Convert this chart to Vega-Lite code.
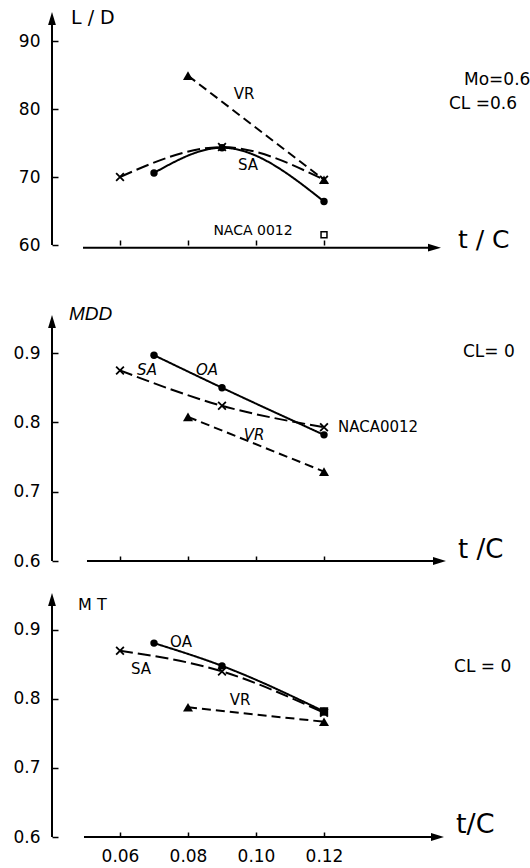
{
  "$schema": "https://vega.github.io/schema/vega-lite/v6.json",
  "background": "white",
  "padding": {"left": 12, "top": 10, "right": 0, "bottom": 0},
  "bounds": "flush",
  "spacing": 30,
  "config": {
    "view": {"stroke": null},
    "axis": {"labelFont": "DejaVu Sans", "labelColor": "black", "tickColor": "black"}
  },
  "datasets": {
    "curves": [
      {"panel": "LD", "series": "OA", "tc": 0.07, "v": 70.6},
      {"panel": "LD", "series": "OA", "tc": 0.09, "v": 74.3},
      {"panel": "LD", "series": "OA", "tc": 0.12, "v": 66.4},
      {"panel": "LD", "series": "SA", "tc": 0.06, "v": 70.0},
      {"panel": "LD", "series": "SA", "tc": 0.09, "v": 74.4},
      {"panel": "LD", "series": "SA", "tc": 0.12, "v": 69.6},
      {"panel": "LD", "series": "VR", "tc": 0.08, "v": 84.9},
      {"panel": "LD", "series": "VR", "tc": 0.12, "v": 69.6},
      {"panel": "MDD", "series": "OA", "tc": 0.07, "v": 0.897},
      {"panel": "MDD", "series": "OA", "tc": 0.09, "v": 0.850},
      {"panel": "MDD", "series": "OA", "tc": 0.12, "v": 0.782},
      {"panel": "MDD", "series": "SA", "tc": 0.06, "v": 0.875},
      {"panel": "MDD", "series": "SA", "tc": 0.09, "v": 0.824},
      {"panel": "MDD", "series": "SA", "tc": 0.12, "v": 0.793},
      {"panel": "MDD", "series": "VR", "tc": 0.08, "v": 0.808},
      {"panel": "MDD", "series": "VR", "tc": 0.12, "v": 0.729},
      {"panel": "MT", "series": "OA", "tc": 0.07, "v": 0.881},
      {"panel": "MT", "series": "OA", "tc": 0.09, "v": 0.848},
      {"panel": "MT", "series": "OA", "tc": 0.12, "v": 0.782},
      {"panel": "MT", "series": "SA", "tc": 0.06, "v": 0.870},
      {"panel": "MT", "series": "SA", "tc": 0.09, "v": 0.840},
      {"panel": "MT", "series": "SA", "tc": 0.12, "v": 0.780},
      {"panel": "MT", "series": "VR", "tc": 0.08, "v": 0.788},
      {"panel": "MT", "series": "VR", "tc": 0.12, "v": 0.767}
    ]
  },
  "vconcat": [
    {
      "width": 479,
      "height": 235,
      "encoding": {
        "x": {"field": "tc", "type": "quantitative", "scale": {"domain": [0.04, 0.18088], "nice": false, "zero": false},
          "axis": {"title": null, "domain": false, "grid": false, "values": [0.06, 0.08, 0.1, 0.12], "tickSize": -5, "tickWidth": 1.5, "labels": false}},
        "y": {"field": "v", "type": "quantitative", "scale": {"domain": [60, 94.559], "nice": false, "zero": false},
          "axis": {"title": null, "domain": false, "grid": false, "values": [60, 70, 80, 90], "tickSize": -6, "tickWidth": 1.5, "labelFontSize": 17, "labelPadding": 18, "labelFlush": false}}
      },
      "layer": [
        {"data": {"values": [{"tc": 0.04, "v": 60, "tc2": 0.04, "v2": 93.31}, {"tc": 0.04912, "v": 59.6, "tc2": 0.1525, "v2": 59.6}]},
          "mark": {"type": "rule", "color": "black", "strokeWidth": 2},
          "encoding": {"x2": {"field": "tc2"}, "y2": {"field": "v2"}}},
        {"data": {"values": [{"tc": 0.04, "v": 93.31}]},
          "mark": {"type": "point", "shape": "M0,-1L0.6,1L-0.6,1Z", "filled": true, "color": "black", "opacity": 1, "size": 169}},
        {"data": {"values": [{"tc": 0.1525, "v": 59.6}]},
          "mark": {"type": "point", "shape": "M1,0L-1,0.6L-1,-0.6Z", "filled": true, "color": "black", "opacity": 1, "size": 169}},
        {"data": {"name": "curves"}, "transform": [{"filter": "datum.panel === 'LD'"}],
          "mark": {"type": "line", "interpolate": "monotone", "color": "black", "strokeWidth": 2},
          "encoding": {"strokeDash": {"field": "series", "type": "nominal", "scale": {"domain": ["OA", "SA", "VR"], "range": [[1, 0], [13, 5], [9, 5]]}, "legend": null}}},
        {"data": {"name": "curves"}, "transform": [{"filter": "datum.panel === 'LD' && datum.series === 'OA'"}],
          "mark": {"type": "point", "shape": "circle", "filled": true, "color": "black", "opacity": 1, "size": 55}},
        {"data": {"name": "curves"}, "transform": [{"filter": "datum.panel === 'LD' && datum.series === 'VR'"}],
          "mark": {"type": "point", "shape": "triangle-up", "filled": true, "color": "black", "opacity": 1, "size": 100}},
        {"data": {"name": "curves"}, "transform": [{"filter": "datum.panel === 'LD' && datum.series === 'SA'"}],
          "mark": {"type": "point", "shape": "M-1,-1L1,1M-1,1L1,-1", "filled": false, "color": "black", "opacity": 1, "strokeWidth": 1.8, "size": 60}},
        {"data": {"values": [{"tc": 0.12, "v": 61.5}]},
          "mark": {"type": "point", "shape": "square", "filled": false, "color": "black", "opacity": 1, "strokeWidth": 1.5, "size": 35}},
        {"data": {"values": [{"tc": 0.04559, "v": 93.38, "label": "L / D"}]},
          "mark": {"type": "text", "align": "left", "baseline": "middle", "font": "DejaVu Sans", "fontSize": 19, "color": "black", "clip": true},
          "encoding": {"text": {"field": "label"}}},
        {"data": {"values": [{"tc": 0.09647, "v": 82.21, "label": "VR"}, {"tc": 0.09765, "v": 71.76, "label": "SA"}]},
          "mark": {"type": "text", "align": "center", "baseline": "middle", "font": "DejaVu Sans", "fontSize": 15, "color": "black", "clip": true},
          "encoding": {"text": {"field": "label"}}},
        {"data": {"values": [{"tc": 0.09912, "v": 62.06, "label": "NACA 0012"}]},
          "mark": {"type": "text", "align": "center", "baseline": "middle", "font": "DejaVu Sans", "fontSize": 14, "color": "black", "clip": true},
          "encoding": {"text": {"field": "label"}}},
        {"data": {"values": [{"tc": 0.16118, "v": 84.26, "label": "Mo=0.6"}, {"tc": 0.15676, "v": 80.74, "label": "CL  =0.6"}]},
          "mark": {"type": "text", "align": "left", "baseline": "middle", "font": "DejaVu Sans", "fontSize": 17, "color": "black", "clip": true},
          "encoding": {"text": {"field": "label"}}},
        {"data": {"values": [{"tc": 0.15941, "v": 60.74, "label": "t / C"}]},
          "mark": {"type": "text", "align": "left", "baseline": "middle", "font": "DejaVu Sans", "fontSize": 25, "color": "black"},
          "encoding": {"text": {"field": "label"}}}
      ]
    },
    {
      "width": 479,
      "height": 286,
      "encoding": {
        "x": {"field": "tc", "type": "quantitative", "scale": {"domain": [0.04, 0.18088], "nice": false, "zero": false},
          "axis": {"title": null, "domain": false, "grid": false, "values": [0.06, 0.08, 0.1, 0.12], "tickSize": -5, "tickWidth": 1.5, "labels": false}},
        "y": {"field": "v", "type": "quantitative", "scale": {"domain": [0.6, 1.0127], "nice": false, "zero": false},
          "axis": {"title": null, "domain": false, "grid": false, "values": [0.6, 0.7, 0.8, 0.9], "format": ".1f", "tickSize": -6, "tickWidth": 1.5, "labelFontSize": 17, "labelPadding": 18, "labelFlush": false}}
      },
      "layer": [
        {"data": {"values": [{"tc": 0.04, "v": 0.6, "tc2": 0.04, "v2": 0.9456}, {"tc": 0.05029, "v": 0.6, "tc2": 0.15397, "v2": 0.6}]},
          "mark": {"type": "rule", "color": "black", "strokeWidth": 2},
          "encoding": {"x2": {"field": "tc2"}, "y2": {"field": "v2"}}},
        {"data": {"values": [{"tc": 0.04, "v": 0.9456}]},
          "mark": {"type": "point", "shape": "M0,-1L0.6,1L-0.6,1Z", "filled": true, "color": "black", "opacity": 1, "size": 169}},
        {"data": {"values": [{"tc": 0.15397, "v": 0.6}]},
          "mark": {"type": "point", "shape": "M1,0L-1,0.6L-1,-0.6Z", "filled": true, "color": "black", "opacity": 1, "size": 169}},
        {"data": {"name": "curves"}, "transform": [{"filter": "datum.panel === 'MDD'"}],
          "mark": {"type": "line", "interpolate": "monotone", "color": "black", "strokeWidth": 2},
          "encoding": {"strokeDash": {"field": "series", "type": "nominal", "scale": {"domain": ["OA", "SA", "VR"], "range": [[1, 0], [13, 5], [9, 5]]}, "legend": null}}},
        {"data": {"name": "curves"}, "transform": [{"filter": "datum.panel === 'MDD' && datum.series === 'OA'"}],
          "mark": {"type": "point", "shape": "circle", "filled": true, "color": "black", "opacity": 1, "size": 55}},
        {"data": {"name": "curves"}, "transform": [{"filter": "datum.panel === 'MDD' && datum.series === 'VR'"}],
          "mark": {"type": "point", "shape": "triangle-up", "filled": true, "color": "black", "opacity": 1, "size": 100}},
        {"data": {"name": "curves"}, "transform": [{"filter": "datum.panel === 'MDD' && datum.series === 'SA'"}],
          "mark": {"type": "point", "shape": "M-1,-1L1,1M-1,1L1,-1", "filled": false, "color": "black", "opacity": 1, "strokeWidth": 1.8, "size": 60}},
        {"data": {"values": [{"tc": 0.0450, "v": 0.9564, "label": "MDD"}]},
          "mark": {"type": "text", "align": "left", "baseline": "middle", "font": "Liberation Sans", "fontStyle": "italic", "fontSize": 19, "color": "black", "clip": true},
          "encoding": {"text": {"field": "label"}}},
        {"data": {"values": [{"tc": 0.06794, "v": 0.8756, "label": "SA"}, {"tc": 0.08559, "v": 0.8756, "label": "OA"}, {"tc": 0.09941, "v": 0.7818, "label": "VR"}]},
          "mark": {"type": "text", "align": "center", "baseline": "middle", "font": "DejaVu Sans", "fontStyle": "italic", "fontSize": 15, "color": "black", "clip": true},
          "encoding": {"text": {"field": "label"}}},
        {"data": {"values": [{"tc": 0.12412, "v": 0.7934, "label": "NACA0012"}]},
          "mark": {"type": "text", "align": "left", "baseline": "middle", "font": "DejaVu Sans", "fontSize": 15, "color": "black", "clip": true},
          "encoding": {"text": {"field": "label"}}},
        {"data": {"values": [{"tc": 0.16088, "v": 0.9016, "label": "CL= 0"}]},
          "mark": {"type": "text", "align": "left", "baseline": "middle", "font": "DejaVu Sans", "fontSize": 17, "color": "black", "clip": true},
          "encoding": {"text": {"field": "label"}}},
        {"data": {"values": [{"tc": 0.15941, "v": 0.6159, "label": "t /C"}]},
          "mark": {"type": "text", "align": "left", "baseline": "middle", "font": "DejaVu Sans", "fontSize": 26, "color": "black"},
          "encoding": {"text": {"field": "label"}}}
      ]
    },
    {
      "width": 479,
      "height": 246,
      "encoding": {
        "x": {"field": "tc", "type": "quantitative", "scale": {"domain": [0.04, 0.18088], "nice": false, "zero": false},
          "axis": {"title": null, "domain": false, "grid": false, "values": [0.06, 0.08, 0.1, 0.12], "format": ".2f", "tickSize": -5, "tickWidth": 1.5, "labelFontSize": 17, "labelPadding": 16, "labelFlush": false}},
        "y": {"field": "v", "type": "quantitative", "scale": {"domain": [0.6, 0.95652], "nice": false, "zero": false},
          "axis": {"title": null, "domain": false, "grid": false, "values": [0.6, 0.7, 0.8, 0.9], "format": ".1f", "tickSize": -6, "tickWidth": 1.5, "labelFontSize": 17, "labelPadding": 18, "labelFlush": false}}
      },
      "layer": [
        {"data": {"values": [{"tc": 0.04, "v": 0.6, "tc2": 0.04, "v2": 0.9442}, {"tc": 0.04941, "v": 0.6, "tc2": 0.15338, "v2": 0.6}]},
          "mark": {"type": "rule", "color": "black", "strokeWidth": 2},
          "encoding": {"x2": {"field": "tc2"}, "y2": {"field": "v2"}}},
        {"data": {"values": [{"tc": 0.04, "v": 0.9442}]},
          "mark": {"type": "point", "shape": "M0,-1L0.6,1L-0.6,1Z", "filled": true, "color": "black", "opacity": 1, "size": 169}},
        {"data": {"values": [{"tc": 0.15338, "v": 0.6}]},
          "mark": {"type": "point", "shape": "M1,0L-1,0.6L-1,-0.6Z", "filled": true, "color": "black", "opacity": 1, "size": 169}},
        {"data": {"name": "curves"}, "transform": [{"filter": "datum.panel === 'MT'"}],
          "mark": {"type": "line", "interpolate": "monotone", "color": "black", "strokeWidth": 2},
          "encoding": {"strokeDash": {"field": "series", "type": "nominal", "scale": {"domain": ["OA", "SA", "VR"], "range": [[1, 0], [13, 5], [9, 5]]}, "legend": null}}},
        {"data": {"name": "curves"}, "transform": [{"filter": "datum.panel === 'MT' && datum.series === 'OA'"}],
          "mark": {"type": "point", "shape": "circle", "filled": true, "color": "black", "opacity": 1, "size": 55}},
        {"data": {"name": "curves"}, "transform": [{"filter": "datum.panel === 'MT' && datum.series === 'VR'"}],
          "mark": {"type": "point", "shape": "triangle-up", "filled": true, "color": "black", "opacity": 1, "size": 100}},
        {"data": {"name": "curves"}, "transform": [{"filter": "datum.panel === 'MT' && datum.series === 'SA'"}],
          "mark": {"type": "point", "shape": "M-1,-1L1,1M-1,1L1,-1", "filled": false, "color": "black", "opacity": 1, "strokeWidth": 1.8, "size": 60}},
        {"data": {"values": [{"tc": 0.12, "v": 0.782}]},
          "mark": {"type": "point", "shape": "square", "filled": true, "color": "black", "opacity": 1, "size": 70}},
        {"data": {"values": [{"tc": 0.04765, "v": 0.9362, "label": "M T"}]},
          "mark": {"type": "text", "align": "left", "baseline": "middle", "font": "DejaVu Sans", "fontSize": 16, "color": "black", "clip": true},
          "encoding": {"text": {"field": "label"}}},
        {"data": {"values": [{"tc": 0.07794, "v": 0.8826, "label": "OA"}, {"tc": 0.06618, "v": 0.8435, "label": "SA"}, {"tc": 0.09529, "v": 0.7986, "label": "VR"}]},
          "mark": {"type": "text", "align": "center", "baseline": "middle", "font": "DejaVu Sans", "fontSize": 15, "color": "black", "clip": true},
          "encoding": {"text": {"field": "label"}}},
        {"data": {"values": [{"tc": 0.15824, "v": 0.8464, "label": "CL = 0"}]},
          "mark": {"type": "text", "align": "left", "baseline": "middle", "font": "DejaVu Sans", "fontSize": 17, "color": "black", "clip": true},
          "encoding": {"text": {"field": "label"}}},
        {"data": {"values": [{"tc": 0.15882, "v": 0.6174, "label": "t/C"}]},
          "mark": {"type": "text", "align": "left", "baseline": "middle", "font": "DejaVu Sans", "fontSize": 27, "color": "black"},
          "encoding": {"text": {"field": "label"}}}
      ]
    }
  ]
}
